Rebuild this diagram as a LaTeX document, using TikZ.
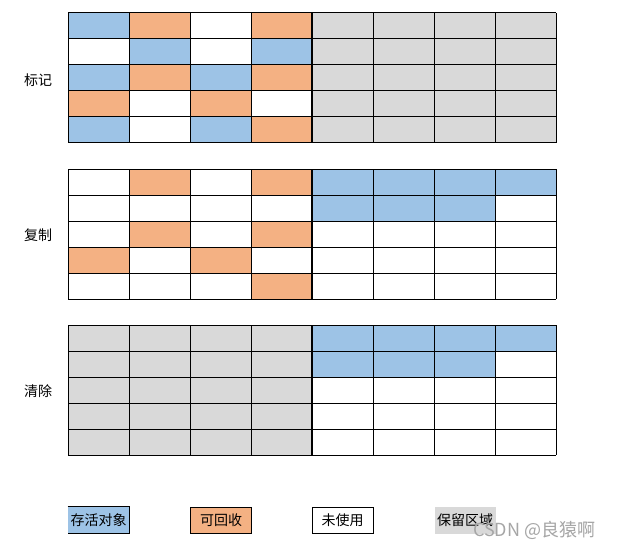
\documentclass[tikz,border=0pt]{standalone}
\usepackage{fontspec}
\setmainfont{Noto Sans CJK SC}
\definecolor{cB}{HTML}{9DC3E6}
\definecolor{cO}{HTML}{F4B183}
\definecolor{cG}{HTML}{D9D9D9}
\definecolor{cW}{HTML}{FFFFFF}
\newcommand\memgrid[2]{%
  \foreach \row [count=\r from 0] in {#2} {
    \foreach \c [count=\i from 0] in \row {
      \fill[\c] (68+61*\i, #1+26*\r) rectangle ++(61,26);
    }
  }
  \foreach \i in {0,...,8} { \draw[gridline] (68+61*\i, #1) -- (68+61*\i, #1+130); }
  \foreach \r in {0,...,5} { \draw[gridline] (68, #1+26*\r) -- (556, #1+26*\r); }
  \draw[line width=1.8pt] (312, #1) -- (312, #1+130);
}
\begin{document}
\begin{tikzpicture}[x=1pt,y=-1pt,
  gridline/.style={line width=1pt, black},
  lbl/.style={font=\fontsize{14}{16}\selectfont, inner sep=0pt},
  legbox/.style={lbl, minimum width=61pt, minimum height=26pt, line width=1pt}]
\useasboundingbox[fill=white] (0,0) rectangle (620,548);

\memgrid{13}{{cB,cO,cW,cO,cG,cG,cG,cG},{cW,cB,cW,cB,cG,cG,cG,cG},{cB,cO,cB,cO,cG,cG,cG,cG},{cO,cW,cO,cW,cG,cG,cG,cG},{cB,cW,cB,cO,cG,cG,cG,cG}}
\memgrid{169}{{cW,cO,cW,cO,cB,cB,cB,cB},{cW,cW,cW,cW,cB,cB,cB,cW},{cW,cO,cW,cO,cW,cW,cW,cW},{cO,cW,cO,cW,cW,cW,cW,cW},{cW,cW,cW,cO,cW,cW,cW,cW}}
\memgrid{325}{{cG,cG,cG,cG,cB,cB,cB,cB},{cG,cG,cG,cG,cB,cB,cB,cW},{cG,cG,cG,cG,cW,cW,cW,cW},{cG,cG,cG,cG,cW,cW,cW,cW},{cG,cG,cG,cG,cW,cW,cW,cW}}

\node[lbl] (mark) at (38,80) {标记};
\node[lbl] (copy) at (38,235) {复制};
\node[lbl] (clear) at (38,391) {清除};

\node[legbox, fill=cB] (live) at (98.5,520) {存活对象};
\draw[line width=1pt] (live.north west) -- (live.north east) -- (live.south east) -- (live.south west);
\node[legbox, fill=cO, draw=black] (recl) at (221,520) {可回收};
\node[legbox, fill=white, draw=black] (unused) at (342.5,520) {未使用};
\node[legbox, fill=cG, minimum height=27pt] (resv) at (465,520.5) {保留区域};
\node[anchor=west, inner sep=0pt, text=black!35, font=\fontsize{18}{20}\selectfont] (wm) at (473,530) {CSDN @良猿啊};
\end{tikzpicture}
\end{document}
